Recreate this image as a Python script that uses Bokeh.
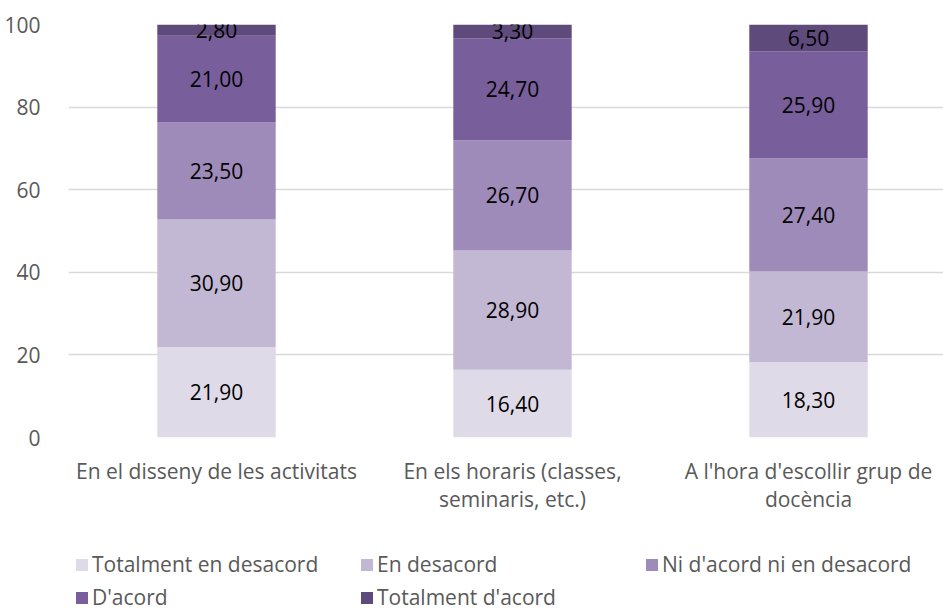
from bokeh.plotting import figure
from bokeh.layouts import column
from bokeh.models import ColumnDataSource, Legend, LegendItem, FixedTicker, Range1d
from bokeh.embed import file_html
from bokeh.resources import INLINE
from bokeh.core.properties import value

categories = ["En el disseny de les activitats",
              "En els horaris (classes,\nseminaris, etc.)",
              "A l'hora d'escollir grup de\ndocència"]
series_names = ["Totalment en desacord", "En desacord", "Ni d'acord ni en desacord",
                "D'acord", "Totalment d'acord"]
totalment_desacord = [21.9, 16.4, 18.3]
en_desacord = [30.9, 28.9, 21.9]
ni_acord_ni_desacord = [23.5, 26.7, 27.4]
d_acord = [21.0, 24.7, 25.9]
totalment_acord = [2.8, 3.3, 6.5]
y_ticks = [0, 20, 40, 60, 80, 100]

series_values = [totalment_desacord, en_desacord, ni_acord_ni_desacord, d_acord, totalment_acord]
colors = ["#DFDAE7", "#C3B8D4", "#9E8BB9", "#785E9A", "#5F4A7C"]

FONT = "Open Sans"
FS = "21px"
xpos = [i + 0.5 for i in range(len(categories))]

p = figure(frame_width=875, frame_height=413, output_backend="svg", toolbar_location=None,
           x_range=Range1d(0, 875 / 296), y_range=Range1d(0, 100),
           min_border_left=68, min_border_right=0, min_border_top=24, min_border_bottom=107)
p.outline_line_color = None
p.background_fill_color = "white"

# legend holder figure (no axes, so its frame starts at min_border_left)
lg = figure(width=943, height=64, output_backend="svg", toolbar_location=None,
            x_range=Range1d(0, 1), y_range=Range1d(0, 1),
            x_axis_location=None, y_axis_location=None,
            min_border_left=59, min_border_right=0, min_border_top=0, min_border_bottom=0)
lg.outline_line_color = None
lg.grid.visible = False

bottoms = [0.0] * len(categories)
items = []
for name, vals, col in zip(series_names, series_values, colors):
    tops = [b + v for b, v in zip(bottoms, vals)]
    mids = [(b + t) / 2 for b, t in zip(bottoms, tops)]
    labels = [f"{v:.2f}".replace(".", ",") for v in vals]
    src = ColumnDataSource(dict(x=xpos, bottom=bottoms, top=tops, mid=mids, label=labels))
    p.vbar(x="x", bottom="bottom", top="top", width=0.4, source=src,
           fill_color=col, line_color=None)
    p.text(x="x", y="mid", text="label", source=src, text_align="center",
           text_baseline="middle", text_font=value(FONT), text_font_size=FS,
           text_color="#000000")
    # zero-height proxy bar so the legend swatch has a colour
    lr = lg.vbar(x=[0], bottom=[0], top=[0], width=0.0, fill_color=col, line_color=None)
    items.append(LegendItem(label=name, renderers=[lr]))
    bottoms = tops

p.xgrid.grid_line_color = None
p.ygrid.grid_line_color = "#D9D9D9"
p.ygrid.grid_line_width = 1.5
p.yaxis.ticker = FixedTicker(ticks=y_ticks)
p.xaxis.ticker = FixedTicker(ticks=xpos)
p.xaxis.major_label_overrides = {x: c for x, c in zip(xpos, categories)}
for ax in (p.xaxis, p.yaxis):
    ax.axis_line_color = None
    ax.major_tick_line_color = None
    ax.minor_tick_line_color = None
    ax.major_label_text_font = FONT
    ax.major_label_text_font_size = FS
    ax.major_label_text_color = "#595959"
p.yaxis.major_label_standoff = 22
p.xaxis.major_label_standoff = 13
p.xaxis.major_label_text_line_height = 1.0

legend = Legend(items=items, orientation="horizontal", ncols=3,
                label_text_font=FONT, label_text_font_size=FS,
                label_text_color="#595959", glyph_width=15, glyph_height=15,
                label_standoff=3, label_width=262, spacing=5, border_line_color=None,
                background_fill_alpha=0, location="top_left", margin=6, padding=0)
lg.add_layout(legend, "center")

open("out.html", "w").write(file_html(column(p, lg, spacing=0), INLINE))
